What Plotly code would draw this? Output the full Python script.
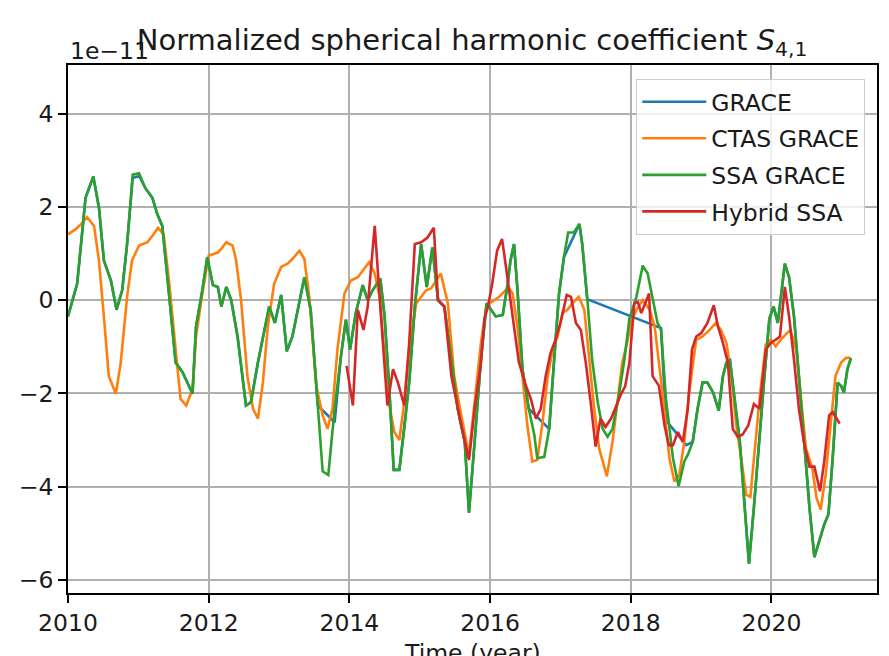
import plotly.graph_objects as go

# ---- data (values in units of 1e-11) ----
grace_t = [2010.00, 2010.13, 2010.25, 2010.36, 2010.44, 2010.51, 2010.61, 2010.69, 2010.77, 2010.84,
           2010.92, 2011.01, 2011.10, 2011.20, 2011.27, 2011.34, 2011.44, 2011.53, 2011.63, 2011.77,
           2011.82, 2011.91, 2011.98, 2012.06, 2012.13, 2012.18, 2012.25, 2012.32, 2012.41, 2012.53,
           2012.60, 2012.70, 2012.86, 2012.94, 2013.03, 2013.11, 2013.19, 2013.36, 2013.45, 2013.55,
           2013.79, 2013.88, 2013.95, 2014.01, 2014.09, 2014.19, 2014.26, 2014.33, 2014.44, 2014.50,
           2014.57, 2014.63, 2014.71, 2014.78, 2014.85, 2014.93, 2015.02, 2015.10, 2015.18, 2015.26,
           2015.35, 2015.45, 2015.54, 2015.64, 2015.70, 2015.78, 2015.87, 2015.95, 2016.01, 2016.08,
           2016.18, 2016.25, 2016.29, 2016.34, 2016.39, 2016.46, 2016.55, 2016.84, 2016.91, 2016.98,
           2017.05, 2017.27, 2017.31, 2017.38, 2018.43, 2018.50, 2018.79, 2018.88, 2018.95, 2019.02,
           2019.09, 2019.17, 2019.25, 2019.31, 2019.36, 2019.41, 2019.47, 2019.55, 2019.62, 2019.68,
           2019.75, 2019.82, 2019.90, 2019.97, 2020.03, 2020.09, 2020.16, 2020.19, 2020.25, 2020.32,
           2020.39, 2020.46, 2020.54, 2020.61, 2020.68, 2020.75, 2020.81, 2020.87, 2020.94, 2020.99,
           2021.03, 2021.08, 2021.13]
grace_v = [-0.35, 0.35, 2.20, 2.65, 1.98, 0.85, 0.42, -0.21, 0.21, 1.20,
           2.62, 2.66, 2.40, 2.19, 1.84, 1.59, 0.07, -1.34, -1.55, -2.01,
           -0.57, 0.21, 0.92, 0.32, 0.28, -0.14, 0.28, 0.00, -0.78, -2.26,
           -2.19, -1.34, -0.14, -0.49, 0.11, -1.10, -0.78, 0.49, -0.21, -2.26,
           -2.62, -1.20, -0.42, -1.06, -0.28, 0.32, 0.00, 0.21, 0.46, -0.35,
           -1.98, -3.64, -3.64, -2.76, -1.77, -0.14, 1.20, 0.28, 1.13, 0.00,
           -0.14, -1.27, -2.33, -3.04, -4.56, -3.04, -1.27, -0.07, -0.21, -0.35,
           -0.32, 0.35, 0.85, 1.20, 0.21, -1.48, -2.33, -2.76, -1.27, 0.14,
           0.92, 1.63, 1.20, 0.02, -0.60, -2.58, -3.11, -3.04, -2.33, -1.77,
           -1.77, -1.98, -2.37, -1.63, -1.34, -1.29, -2.05, -3.04, -4.45, -5.65,
           -4.45, -3.04, -1.63, -0.40, -0.14, -0.49, 0.35, 0.78, 0.49, -0.35,
           -1.63, -3.04, -4.45, -5.51, -5.16, -4.81, -4.59, -3.39, -1.77, -1.84,
           -1.98, -1.48, -1.24]

ctas_t = [2010.00, 2010.11, 2010.20, 2010.27, 2010.37, 2010.44, 2010.51, 2010.58, 2010.68, 2010.75,
          2010.84, 2010.91, 2011.01, 2011.13, 2011.20, 2011.28, 2011.36, 2011.44, 2011.53, 2011.60,
          2011.68, 2011.77, 2011.82, 2011.91, 2012.00, 2012.13, 2012.18, 2012.25, 2012.34, 2012.39,
          2012.46, 2012.55, 2012.63, 2012.70, 2012.77, 2012.84, 2012.93, 2013.03, 2013.12, 2013.19,
          2013.29, 2013.36, 2013.43, 2013.53, 2013.62, 2013.69, 2013.76, 2013.83, 2013.93, 2014.02,
          2014.12, 2014.19, 2014.28, 2014.36, 2014.43, 2014.55, 2014.64, 2014.71, 2014.78, 2014.85,
          2014.95, 2015.02, 2015.09, 2015.16, 2015.23, 2015.30, 2015.40, 2015.49, 2015.59, 2015.70,
          2015.78, 2015.87, 2015.94, 2015.99, 2016.06, 2016.13, 2016.20, 2016.26, 2016.32, 2016.39,
          2016.46, 2016.53, 2016.60, 2016.67, 2016.74, 2016.82, 2016.89, 2016.96, 2017.03, 2017.10,
          2017.17, 2017.26, 2017.34, 2017.41, 2017.48, 2017.55, 2017.66, 2017.74, 2017.81, 2017.88,
          2017.95, 2018.00, 2018.08, 2018.17, 2018.27, 2018.34, 2018.45, 2018.55, 2018.62, 2018.69,
          2018.76, 2018.83, 2018.93, 2019.02, 2019.12, 2019.21, 2019.28, 2019.36, 2019.43, 2019.50,
          2019.57, 2019.64, 2019.70, 2019.77, 2019.84, 2019.92, 2019.99, 2020.06, 2020.13, 2020.20,
          2020.27, 2020.35, 2020.42, 2020.49, 2020.58, 2020.64, 2020.70, 2020.77, 2020.84, 2020.91,
          2020.99, 2021.06, 2021.12]
ctas_v = [1.41, 1.52, 1.65, 1.78, 1.59, 0.85, -0.35, -1.63, -2.01, -1.34,
          0.07, 0.85, 1.17, 1.24, 1.38, 1.55, 1.41, 0.35, -1.06, -2.12,
          -2.26, -1.91, -0.78, 0.14, 0.95, 1.02, 1.10, 1.24, 1.17, 0.85,
          0.00, -1.63, -2.33, -2.54, -1.77, -0.57, 0.35, 0.71, 0.78, 0.88,
          1.06, 0.88, 0.07, -1.84, -2.47, -2.76, -2.33, -1.06, 0.14, 0.42,
          0.49, 0.64, 0.81, 0.57, 0.07, -2.12, -2.83, -3.00, -2.19, -1.06,
          -0.07, 0.07, 0.21, 0.25, 0.42, 0.57, -0.07, -1.63, -2.47, -3.32,
          -2.19, -0.92, -0.21, -0.07, 0.00, 0.07, 0.18, 0.28, 0.14, -0.57,
          -1.63, -2.69, -3.46, -3.43, -2.69, -1.63, -1.06, -0.78, -0.28, -0.21,
          -0.07, 0.07, -0.21, -1.34, -2.33, -3.18, -3.78, -3.04, -2.19, -1.34,
          -0.90, -0.49, -0.21, 0.00, -0.21, -0.57, -1.98, -3.39, -3.89, -3.75,
          -3.04, -1.98, -0.85, -0.78, -0.64, -0.49, -0.64, -0.92, -1.63, -2.69,
          -3.39, -4.17, -4.22, -3.04, -1.98, -0.95, -0.85, -0.99, -0.85, -0.74,
          -0.64, -1.06, -2.19, -3.18, -3.60, -4.24, -4.49, -3.75, -2.69, -1.63,
          -1.34, -1.24, -1.24]

ssa_t = [2010.00, 2010.13, 2010.25, 2010.36, 2010.44, 2010.51, 2010.61, 2010.69, 2010.77, 2010.84,
         2010.92, 2011.01, 2011.10, 2011.20, 2011.27, 2011.34, 2011.44, 2011.53, 2011.63, 2011.77,
         2011.82, 2011.91, 2011.98, 2012.06, 2012.13, 2012.18, 2012.25, 2012.32, 2012.41, 2012.53,
         2012.60, 2012.70, 2012.86, 2012.94, 2013.03, 2013.11, 2013.19, 2013.36, 2013.45, 2013.55,
         2013.62, 2013.70, 2013.79, 2013.88, 2013.95, 2014.01, 2014.09, 2014.19, 2014.26, 2014.33,
         2014.44, 2014.50, 2014.57, 2014.63, 2014.71, 2014.78, 2014.85, 2014.93, 2015.02, 2015.10,
         2015.18, 2015.26, 2015.35, 2015.45, 2015.54, 2015.64, 2015.70, 2015.78, 2015.87, 2015.95,
         2016.01, 2016.08, 2016.18, 2016.25, 2016.29, 2016.34, 2016.39, 2016.46, 2016.55, 2016.63,
         2016.67, 2016.77, 2016.84, 2016.91, 2016.98, 2017.05, 2017.11, 2017.19, 2017.27, 2017.31,
         2017.38, 2017.45, 2017.53, 2017.60, 2017.67, 2017.74, 2017.83, 2017.91, 2017.98, 2018.08,
         2018.17, 2018.24, 2018.31, 2018.38, 2018.43, 2018.50, 2018.60, 2018.68, 2018.76, 2018.81,
         2018.88, 2018.95, 2019.02, 2019.09, 2019.17, 2019.25, 2019.31, 2019.36, 2019.41, 2019.47,
         2019.55, 2019.62, 2019.68, 2019.75, 2019.82, 2019.90, 2019.97, 2020.03, 2020.09, 2020.16,
         2020.19, 2020.25, 2020.32, 2020.39, 2020.46, 2020.54, 2020.61, 2020.68, 2020.75, 2020.81,
         2020.87, 2020.94, 2020.99, 2021.03, 2021.08, 2021.13]
ssa_v = [-0.35, 0.35, 2.20, 2.65, 1.98, 0.85, 0.42, -0.21, 0.21, 1.20,
         2.69, 2.72, 2.40, 2.19, 1.84, 1.59, 0.07, -1.34, -1.55, -2.01,
         -0.57, 0.21, 0.92, 0.32, 0.28, -0.14, 0.28, 0.00, -0.78, -2.26,
         -2.19, -1.34, -0.14, -0.49, 0.11, -1.10, -0.78, 0.49, -0.21, -2.26,
         -3.67, -3.75, -2.33, -1.20, -0.42, -1.06, -0.28, 0.32, 0.00, 0.21,
         0.46, -0.35, -1.98, -3.64, -3.64, -2.76, -1.77, -0.14, 1.20, 0.28,
         1.13, 0.00, -0.14, -1.27, -2.33, -3.04, -4.56, -3.04, -1.27, -0.07,
         -0.21, -0.35, -0.32, 0.35, 0.85, 1.20, 0.21, -1.48, -2.33, -2.90,
         -3.39, -3.36, -2.76, -1.27, 0.14, 0.92, 1.45, 1.45, 1.63, 1.20,
         0.07, -1.27, -2.19, -2.76, -2.93, -2.76, -2.05, -1.27, -0.40, 0.07,
         0.74, 0.57, 0.07, -0.49, -0.64, -2.12, -3.39, -3.99, -3.46, -3.32,
         -3.04, -2.33, -1.77, -1.77, -1.98, -2.37, -1.63, -1.34, -1.29, -2.05,
         -3.04, -4.45, -5.65, -4.45, -3.04, -1.63, -0.40, -0.14, -0.49, 0.35,
         0.78, 0.49, -0.35, -1.63, -3.04, -4.45, -5.51, -5.16, -4.81, -4.59,
         -3.39, -1.77, -1.84, -1.98, -1.48, -1.24]

hybrid_t = [2013.96, 2014.05, 2014.12, 2014.20, 2014.26, 2014.36, 2014.43, 2014.54, 2014.62, 2014.69,
            2014.78, 2014.85, 2014.93, 2015.02, 2015.11, 2015.20, 2015.26, 2015.35, 2015.45, 2015.59,
            2015.70, 2015.78, 2015.87, 2015.92, 2015.97, 2016.03, 2016.10, 2016.17, 2016.22, 2016.28,
            2016.34, 2016.41, 2016.51, 2016.58, 2016.65, 2016.72, 2016.79, 2016.86, 2016.93, 2017.00,
            2017.09, 2017.15, 2017.22, 2017.29, 2017.36, 2017.43, 2017.50, 2017.57, 2017.64, 2017.72,
            2017.79, 2017.86, 2017.92, 2017.98, 2018.05, 2018.10, 2018.15, 2018.26, 2018.31, 2018.40,
            2018.48, 2018.54, 2018.60, 2018.67, 2018.74, 2018.81, 2018.87, 2018.93, 2019.00, 2019.09,
            2019.18, 2019.24, 2019.31, 2019.38, 2019.45, 2019.52, 2019.59, 2019.67, 2019.75, 2019.83,
            2019.92, 2019.99, 2020.06, 2020.12, 2020.19, 2020.25, 2020.32, 2020.39, 2020.46, 2020.54,
            2020.61, 2020.69, 2020.75, 2020.82, 2020.87, 2020.97]
hybrid_v = [-1.41, -2.26, -0.21, -0.64, -0.14, 1.59, 0.07, -2.26, -1.48, -1.77,
            -2.26, -0.92, 1.20, 1.24, 1.34, 1.55, 0.00, -0.14, -1.63, -2.69,
            -3.43, -2.33, -1.34, -0.40, -0.14, 0.35, 1.06, 1.31, 0.78, 0.07,
            -0.57, -1.34, -1.84, -2.12, -2.54, -2.33, -1.63, -1.13, -0.85, -0.49,
            0.11, 0.07, -0.49, -0.64, -1.34, -2.19, -3.14, -2.54, -2.72, -2.54,
            -2.26, -2.02, -1.85, -1.35, -0.07, -0.04, -0.28, 0.14, -1.63, -1.84,
            -2.69, -3.11, -3.11, -2.83, -3.04, -2.33, -1.06, -0.78, -0.71, -0.49,
            -0.11, -0.57, -0.92, -1.34, -2.76, -2.93, -2.88, -2.69, -2.23, -2.33,
            -1.06, -0.92, -0.85, -0.78, 0.28, -0.35, -1.27, -2.33, -3.04, -3.57,
            -3.57, -4.10, -3.46, -2.47, -2.40, -2.65]

series_names = ["GRACE", "CTAS GRACE", "SSA GRACE", "Hybrid SSA"]
series_colors = ["#1f77b4", "#ff7f0e", "#2ca02c", "#d62728"]

x_ticks = [2010, 2012, 2014, 2016, 2018, 2020]
x_tick_text = ["2010", "2012", "2014", "2016", "2018", "2020"]
y_ticks = [-6, -4, -2, 0, 2, 4]
y_tick_text = ["\u22126", "\u22124", "\u22122", "0", "2", "4"]

title_text = "Normalized spherical harmonic coefficient <i>S</i><sub>4,1</sub>"
offset_text = "1e\u221211"
xlabel_text = "Time (year)"

FONT = "DejaVu Sans"
TXT = "#1a1a1a"

fig = go.Figure()
all_t = [grace_t, ctas_t, ssa_t, hybrid_t]
all_v = [grace_v, ctas_v, ssa_v, hybrid_v]
for i, (t, v) in enumerate(zip(all_t, all_v)):
    fig.add_trace(go.Scatter(
        x=t, y=v, mode="lines", name=series_names[i],
        line=dict(color=series_colors[i], width=2.6),
        legendgroup=f"g{i}",
    ))

axis_common = dict(
    showgrid=True, gridcolor="#b0b0b0", gridwidth=1.5,
    zeroline=False, showline=True, linecolor="#000000", linewidth=1.5,
    mirror=True, ticks="outside", ticklen=8, tickwidth=1.5, tickcolor="#000000",
    tickfont=dict(family=FONT, size=23.5, color=TXT),
    automargin=False,
)

fig.update_layout(
    width=889, height=656,
    margin=dict(l=68, r=12, t=65, b=63),
    paper_bgcolor="white", plot_bgcolor="white",
    font=dict(family=FONT, color=TXT),
    title=dict(text=title_text, x=0.531, xanchor="center", yref="container",
               y=1 - 40 / 656, yanchor="middle",
               font=dict(family=FONT, size=29, color=TXT)),
    xaxis=dict(range=[2010, 2021.5], tickvals=x_ticks, ticktext=x_tick_text, **axis_common),
    yaxis=dict(range=[-6.28, 5.04], tickvals=y_ticks, ticktext=y_tick_text, **axis_common),
    legend=dict(x=0.9855, xanchor="right", y=0.9735, yanchor="top",
                bgcolor="rgba(255,255,255,0.8)", bordercolor="#cccccc", borderwidth=1,
                font=dict(family=FONT, size=23.5, color=TXT), tracegroupgap=3,
                itemwidth=64, entrywidth=173, entrywidthmode="pixels"),
    showlegend=True,
)

fig.add_annotation(text=offset_text, xref="paper", yref="paper", x=0, y=1,
                   xanchor="left", yanchor="bottom", showarrow=False, yshift=-2,
                   font=dict(family=FONT, size=23.5, color=TXT))
fig.add_annotation(text=xlabel_text, xref="paper", yref="paper", x=0.5, y=0,
                   xanchor="center", yanchor="top", showarrow=False, yshift=-44,
                   font=dict(family=FONT, size=23.5, color=TXT))

fig.write_html("out.html", config={"displayModeBar": False},
               post_script="document.body.style.margin='0';")
